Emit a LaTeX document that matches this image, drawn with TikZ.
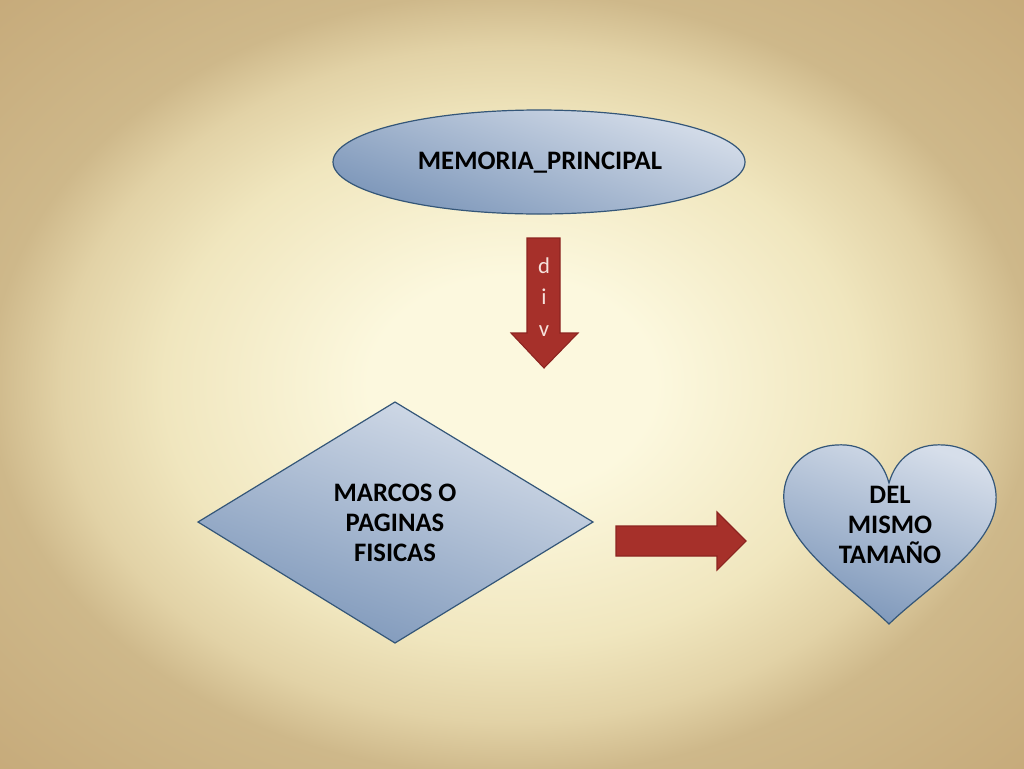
\documentclass[tikz,border=0pt]{standalone}
\usepackage{fontspec}
\setmainfont{Carlito}
\definecolor{bgin}{RGB}{252,248,222}
\definecolor{bgmid}{RGB}{240,230,190}
\definecolor{bgmid2}{RGB}{226,210,166}
\definecolor{bgedge}{RGB}{206,184,138}
\definecolor{bgout}{RGB}{198,170,122}
\definecolor{shtop}{RGB}{214,222,234}
\definecolor{shbot}{RGB}{124,150,185}
\definecolor{shline}{RGB}{52,86,120}
\definecolor{redfill}{RGB}{166,48,42}
\definecolor{redline}{RGB}{140,36,32}
\definecolor{divtext}{RGB}{246,226,220}
\pgfdeclareradialshading{bgshade}{\pgfpoint{0bp}{0bp}}{color(0bp)=(bgin); color(7bp)=(bgin); color(17bp)=(bgmid); color(22bp)=(bgmid2); color(25.5bp)=(bgedge); color(36bp)=(bgout); color(50bp)=(bgout)}
\begin{document}
\begin{tikzpicture}[x=0.75pt,y=-0.75pt,
  blueshape/.style={draw=shline,line width=0.9pt,top color=shtop,bottom color=shbot,shading angle=-20},
  redarrow/.style={fill=redfill,draw=redline,line width=0.8pt},
  lbl/.style={font=\bfseries\fontsize{20}{22.5}\selectfont,align=center,text=black,inner sep=0pt},
  divlbl/.style={font=\fontsize{17}{23.5}\selectfont,align=center,text=divtext,inner sep=0pt}]
\useasboundingbox (0,0) rectangle (1024,768);
\shade[shading=bgshade] (0,0) rectangle (1024,768);
% ellipse
\shadedraw[blueshape] (539,162) ellipse [x radius=154.5pt, y radius=39pt];
\node[lbl] (mem) at (540,163) {MEMORIA\_PRINCIPAL};
% down arrow
\filldraw[redarrow] (527,238) -- (560,238) -- (560,333) -- (578,333) -- (544,368) -- (511,333) -- (527,333) -- cycle;
\node[divlbl] (div) at (544,297) {d\\i\\v};
% diamond
\shadedraw[blueshape] (198,522) -- (395,402) -- (593,522) -- (395,643) -- cycle;
\node[lbl] (marcos) at (395,523) {MARCOS O\\PAGINAS\\FISICAS};
% right arrow
\filldraw[redarrow] (616,526) -- (717,526) -- (717,512) -- (746,541) -- (717,570) -- (717,556) -- (616,556) -- cycle;
% heart
\shadedraw[blueshape] (889,483) .. controls (882,458) and (864,443) .. (836,445)
  .. controls (802,447) and (781,473) .. (784,502)
  .. controls (788,548) and (852,588) .. (889,624)
  .. controls (926,588) and (993,548) .. (996,502)
  .. controls (998,473) and (978,447) .. (944,445)
  .. controls (916,443) and (896,458) .. (889,483) -- cycle;
\node[lbl] (del) at (890,525) {DEL\\MISMO\\TAMAÑO};
\end{tikzpicture}
\end{document}
